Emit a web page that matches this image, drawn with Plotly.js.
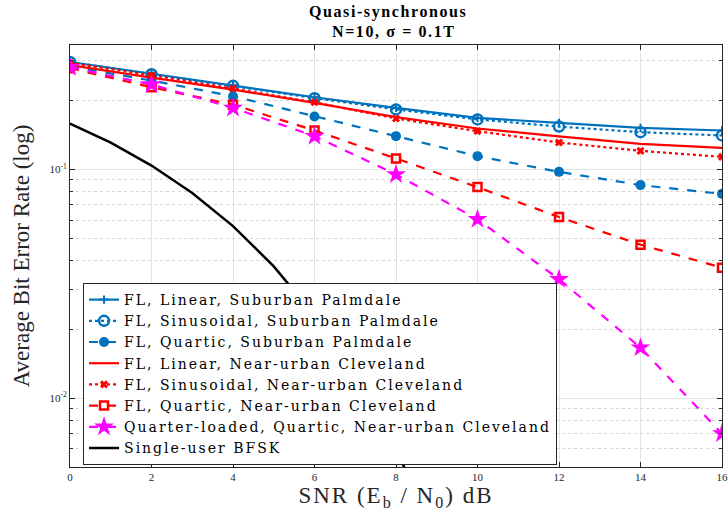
<!DOCTYPE html>
<html>
<head>
<meta charset="utf-8">
<script src="https://cdn.plot.ly/plotly-3.0.1.min.js"></script>
<style>
html,body{margin:0;padding:0;background:#fff;}
#chart{width:728px;height:519px;}
.legendtext{letter-spacing:2px;}
.xtitle{letter-spacing:2px;}
.gtitle{letter-spacing:1.6px;}
</style>
</head>
<body>
<div id="chart"></div>
<script>
// SNR points (dB)
const snr = [0, 2, 4, 6, 8, 10, 12, 14, 16];
const bfskSnr = [0, 1, 2, 3, 4, 5, 6, 7, 8, 9, 10];

// Average bit error rate per series
const linSub  = [0.295, 0.2625, 0.2334, 0.2068, 0.1858, 0.168, 0.1598, 0.1519, 0.148];
const sinSub  = [0.295, 0.261, 0.232, 0.205, 0.183, 0.1655, 0.154, 0.1455, 0.1408];
const quaSub  = [0.2826, 0.2446, 0.209, 0.1703, 0.1398, 0.1143, 0.0976, 0.0854, 0.0782];
const linCle  = [0.286, 0.2518, 0.2235, 0.1953, 0.1692, 0.151, 0.1395, 0.1293, 0.1243];
const sinCle  = [0.292, 0.258, 0.2258, 0.1967, 0.167, 0.147, 0.1312, 0.1206, 0.1135];
const quaCle  = [0.277, 0.2288, 0.192, 0.148, 0.1117, 0.0837, 0.0619, 0.0469, 0.0372];
const quarter = [0.2797, 0.235, 0.1858, 0.1398, 0.0951, 0.0605, 0.0331, 0.01663, 0.0070];
const bfsk    = [0.1587, 0.1309, 0.104, 0.0789, 0.0565, 0.0377, 0.023, 0.0126, 0.006, 0.0024, 0.00078];

const names = [
  'FL, Linear, Suburban Palmdale',
  'FL, Sinusoidal, Suburban Palmdale',
  'FL, Quartic, Suburban Palmdale',
  'FL, Linear, Near-urban Cleveland',
  'FL, Sinusoidal, Near-urban Cleveland',
  'FL, Quartic, Near-urban Cleveland',
  'Quarter-loaded, Quartic, Near-urban Cleveland',
  'Single-user BFSK'
];

const yTickVals = [0.01, 0.1];
const yTickText = ['10<sup>-2</sup>', '10<sup>-1</sup>'];
const xTickVals = [0, 2, 4, 6, 8, 10, 12, 14, 16];

const BLUE = '#0072BD', RED = '#FF0000', MAG = '#FF00FF';

const traces = [
  {x: snr, y: linSub, name: names[0], mode: 'lines+markers',
   line: {color: BLUE, width: 2.2},
   marker: {symbol: 'cross-thin-open', size: 6, color: BLUE, line: {color: BLUE, width: 2}}},
  {x: snr, y: sinSub, name: names[1], mode: 'lines+markers',
   line: {color: BLUE, width: 2.2, dash: 'dot'},
   marker: {symbol: 'circle-open', size: 10, color: BLUE, line: {color: BLUE, width: 2.5}}},
  {x: snr, y: quaSub, name: names[2], mode: 'lines+markers',
   line: {color: BLUE, width: 2.2, dash: 'dash'},
   marker: {symbol: 'circle', size: 10, color: BLUE}},
  {x: snr, y: linCle, name: names[3], mode: 'lines',
   line: {color: RED, width: 2.2}},
  {x: snr, y: sinCle, name: names[4], mode: 'lines+markers',
   line: {color: RED, width: 2.2, dash: 'dot'},
   marker: {symbol: 'x-thin-open', size: 6, color: RED, line: {color: RED, width: 3}}},
  {x: snr, y: quaCle, name: names[5], mode: 'lines+markers',
   line: {color: RED, width: 2.2, dash: 'dash'},
   marker: {symbol: 'square-open', size: 8, color: RED, line: {color: RED, width: 2.5}}},
  {x: snr, y: quarter, name: names[6], mode: 'lines+markers',
   line: {color: MAG, width: 2.2, dash: 'dash'},
   marker: {symbol: 'star', size: 15, color: MAG}},
  {x: bfskSnr, y: bfsk, name: names[7], mode: 'lines',
   line: {color: '#000000', width: 2.5}}
];

const axisColor = '#262626';
const layout = {
  width: 728, height: 519,
  margin: {l: 70, r: 6, t: 45, b: 52},
  paper_bgcolor: '#ffffff', plot_bgcolor: '#ffffff',
  font: {family: 'Liberation Serif, Times New Roman, serif', color: axisColor},
  showlegend: true,
  title: {
    text: '<b>Quasi-synchronous</b><br><b>  N=10, σ = 0.1T</b>',
    font: {family: 'Liberation Serif, serif', size: 16, color: '#000'},
    x: 0.488, xref: 'paper', xanchor: 'center',
    y: 0.968, yref: 'container', yanchor: 'top'
  },
  xaxis: {
    range: [0, 16], tickvals: xTickVals,
    ticks: 'inside', ticklen: 5, tickcolor: axisColor,
    showline: true, linecolor: axisColor, linewidth: 1, mirror: 'allticks',
    showgrid: true, gridcolor: '#e3e3e3', gridwidth: 1, zeroline: false,
    tickfont: {size: 11, color: axisColor},
    title: {text: 'SNR (E<sub>b</sub> / N<sub>0</sub>) dB', font: {size: 23, color: axisColor}, standoff: 3}
  },
  yaxis: {
    type: 'log', range: [Math.log10(0.005), Math.log10(0.35)],
    tickvals: yTickVals, ticktext: yTickText,
    ticks: 'inside', ticklen: 5, tickcolor: axisColor,
    showline: true, linecolor: axisColor, linewidth: 1, mirror: 'allticks',
    showgrid: true, gridcolor: '#e3e3e3', gridwidth: 1, zeroline: false,
    tickfont: {size: 11, color: axisColor},
    minor: {dtick: 'D1', ticks: 'inside', ticklen: 3, tickcolor: axisColor,
            showgrid: true, gridcolor: '#d4d4d4', griddash: 'dot', gridwidth: 1},
    title: {text: 'Average Bit Error Rate (log)', font: {size: 23, color: axisColor}, standoff: 13}
  },
  legend: {
    x: 0.02, y: 0.436, xanchor: 'left', yanchor: 'top',
    bgcolor: '#ffffff', bordercolor: axisColor, borderwidth: 1,
    font: {family: 'DejaVu Serif, serif', size: 14, color: '#000'},
    tracegroupgap: 0
  }
};

Plotly.newPlot('chart', traces, layout, {displayModeBar: false, staticPlot: true});
</script>
</body>
</html>
